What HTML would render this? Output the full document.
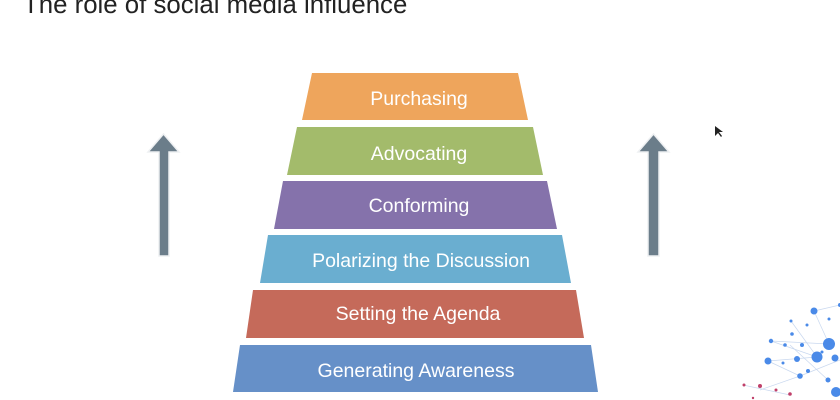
<!DOCTYPE html>
<html><head><meta charset="utf-8"><style>
html,body{margin:0;padding:0;background:#fff;width:840px;height:400px;overflow:hidden;font-family:"Liberation Sans",sans-serif}
</style></head><body>
<svg width="840" height="400" viewBox="0 0 840 400" xmlns="http://www.w3.org/2000/svg" style="position:absolute;left:0;top:0">
<text x="23" y="13" font-size="25.8" fill="#222" font-family="Liberation Sans, sans-serif">The role of social media influence</text>
<g font-family="Liberation Sans, sans-serif" font-size="19.5" fill="#fff" text-anchor="middle">
<polygon points="312,73 518,73 528,120 302,120" fill="#eea55c"/>
<text x="419" y="105">Purchasing</text>
<polygon points="297,127 533,127 543,175 287,175" fill="#a3bb6b"/>
<text x="419" y="160">Advocating</text>
<polygon points="283,181 547,181 557,229 274,229" fill="#8572ab"/>
<text x="419" y="212">Conforming</text>
<polygon points="268,235 562,235 571,283 260,283" fill="#6aaed0"/>
<text x="421" y="267">Polarizing the Discussion</text>
<polygon points="253,290 576,290 584,338 246,338" fill="#c56a5a"/>
<text x="418" y="320">Setting the Agenda</text>
<polygon points="240,345 591,345 598,392 233,392" fill="#6690c8"/>
<text x="416" y="377">Generating Awareness</text>
</g>
<g fill="#6b7d8a" stroke="#eef0f2" stroke-width="1.5">
<polygon points="163.5,134 179,152 169,152 169,256 159,256 159,152 148,152"/>
<polygon points="653.5,134 669,152 659,152 659,256 648,256 648,152 638,152"/>
</g>
<polygon points="715,126 715,136 718,133 721,137 722,136 719,132 723,132" fill="#222"/>
<g stroke="#c9d8ef" stroke-width="0.7" fill="none">
<line x1="814" y1="311" x2="840" y2="305"/><line x1="814" y1="311" x2="829" y2="344"/><line x1="771" y1="341" x2="829" y2="344"/>
<line x1="771" y1="341" x2="817" y2="357"/><line x1="768" y1="361" x2="817" y2="357"/><line x1="768" y1="361" x2="800" y2="376"/>
<line x1="800" y1="376" x2="840" y2="360"/><line x1="791" y1="321" x2="817" y2="357"/><line x1="790" y1="345" x2="828" y2="380"/>
<line x1="760" y1="390" x2="800" y2="376"/><line x1="743" y1="385" x2="790" y2="395"/>
</g>
<g fill="#4a8ae8">
<circle cx="814" cy="311" r="3.5"/><circle cx="829" cy="344" r="6"/><circle cx="817" cy="357" r="5.5"/><circle cx="835" cy="358" r="3.5"/>
<circle cx="768" cy="361" r="3.5"/><circle cx="771" cy="341" r="2.2"/><circle cx="797" cy="359" r="3"/><circle cx="800" cy="376" r="2.8"/>
<circle cx="808" cy="371" r="2"/><circle cx="791" cy="321" r="1.5"/><circle cx="807" cy="325" r="1.5"/><circle cx="792" cy="334" r="1.8"/>
<circle cx="785" cy="345" r="1.8"/><circle cx="802" cy="345" r="2"/><circle cx="822" cy="352" r="1.5"/><circle cx="840" cy="305" r="2"/>
<circle cx="828" cy="380" r="2.5"/><circle cx="836" cy="392" r="5"/><circle cx="783" cy="363" r="1.5"/><circle cx="829" cy="319" r="1.5"/>
</g>
<g fill="#c0406a"><circle cx="744" cy="385" r="1.5"/><circle cx="760" cy="386" r="2"/><circle cx="776" cy="390" r="1.5"/><circle cx="790" cy="394" r="1.8"/><circle cx="753" cy="398" r="1.2"/></g>
</svg>
</body></html>
